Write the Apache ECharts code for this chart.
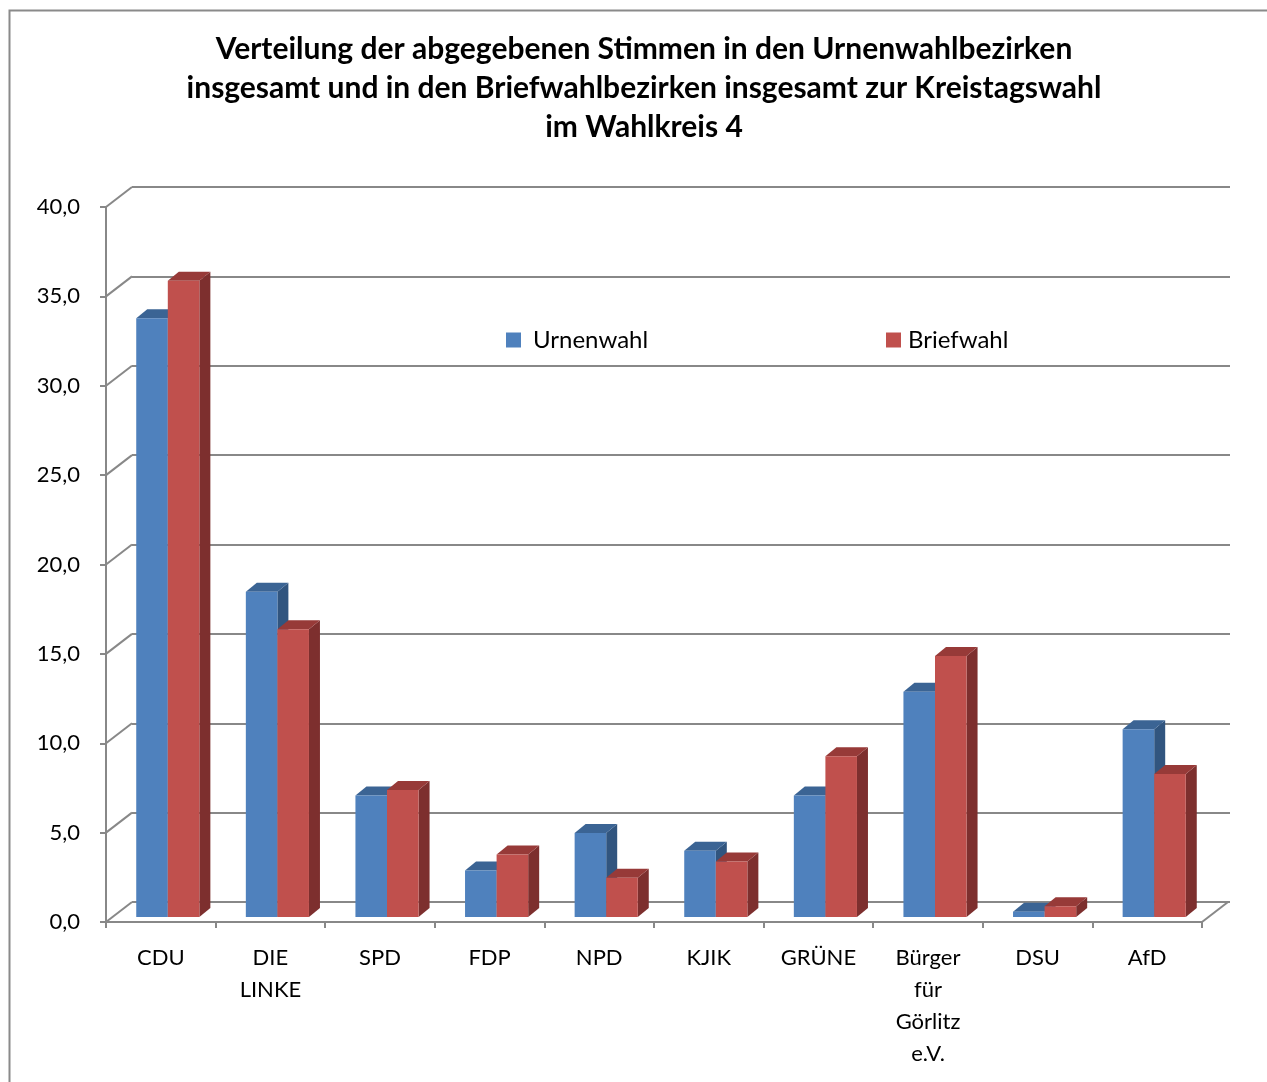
<!DOCTYPE html>
<html>
<head>
<meta charset="utf-8">
<script src="https://cdn.jsdelivr.net/npm/echarts@6/dist/echarts.min.js"></script>
<style>
  html, body { margin: 0; padding: 0; background: #fff; }
  #chart { width: 1267px; height: 1082px; }
</style>
</head>
<body>
<div id="chart"></div>
<script>
// data
var parteien = ['CDU', 'DIE\nLINKE', 'SPD', 'FDP', 'NPD', 'KJIK', 'GRÜNE', 'Bürger\nfür\nGörlitz\ne.V.', 'DSU', 'AfD'];
var urnenwahl = [33.5, 18.2, 6.8, 2.6, 4.7, 3.7, 6.8, 12.6, 0.3, 10.5];
var briefwahl = [35.6, 16.1, 7.1, 3.5, 2.2, 3.1, 9.0, 14.6, 0.6, 8.0];
var yTicks = [0, 5, 10, 15, 20, 25, 30, 35, 40];

var FONT = 'Lato';
var GRID_COLOR = '#888888';

// wall depth offset (back plane)
var WALL_DX = 26, WALL_DY = -20;
// bar placement inside the depth
var BAR_DX = 7, BAR_DY = -5, BAR_DEPTH_X = 11, BAR_DEPTH_Y = -9;

function barRender(idx, front, top, side) {
	return function (params, api) {
		var i = api.value(0);
		var p0 = api.coord([i, 0]);
		var p1 = api.coord([i, api.value(1)]);
		var band = api.size([1, 0])[0];
		var w = band * 0.288;
		var left = p0[0] - w + idx * w + BAR_DX;
		var bottom = p0[1] + BAR_DY;
		var ytop = p1[1] + BAR_DY;
		var dx = BAR_DEPTH_X, dy = BAR_DEPTH_Y;
		return {
			type: 'group',
			children: [{
				type: 'polygon',
				shape: { points: [[left + w, ytop], [left + w + dx, ytop + dy], [left + w + dx, bottom + dy], [left + w, bottom]] },
				style: { fill: side }
			}, {
				type: 'polygon',
				shape: { points: [[left, ytop], [left + w, ytop], [left + w + dx, ytop + dy], [left + dx, ytop + dy]] },
				style: { fill: top }
			}, {
				type: 'rect',
				shape: { x: left, y: ytop, width: w, height: bottom - ytop },
				style: { fill: front }
			}]
		};
	};
}

function wallRender(params, api) {
	var cs = params.coordSys;
	var y = api.coord([0, api.value(1)])[1];
	var children = [{
		type: 'line',
		shape: { x1: cs.x, y1: y, x2: cs.x + WALL_DX, y2: y + WALL_DY },
		style: { stroke: GRID_COLOR, lineWidth: 2 }
	}];
	if (api.value(1) === 0) {
		children.push({
			type: 'line',
			shape: { x1: cs.x + cs.width, y1: y, x2: cs.x + cs.width + WALL_DX, y2: y + WALL_DY },
			style: { stroke: GRID_COLOR, lineWidth: 2 }
		});
	}
	return { type: 'group', children: children };
}

var chart = echarts.init(document.getElementById('chart'));

var option = {
	backgroundColor: '#fff',
	animation: false,
	textStyle: { fontFamily: FONT },
	title: {
		text: 'Verteilung der abgegebenen Stimmen in den Urnenwahlbezirken\ninsgesamt und in den Briefwahlbezirken insgesamt zur Kreistagswahl\nim Wahlkreis 4',
		left: 639,
		textAlign: 'center',
		top: 25,
		textStyle: { fontFamily: FONT, fontSize: 30, fontWeight: 'bold', color: '#000', lineHeight: 39 }
	},
	graphic: [{
		type: 'rect',
		left: 7, top: 8,
		shape: { width: 1300, height: 1100 },
		style: { fill: null, stroke: '#8a8a8a', lineWidth: 2 },
		z: -1
	}],
	legend: [{
		data: ['Urnenwahl'],
		left: 506, top: 328, padding: 0,
		icon: 'rect', itemWidth: 15, itemHeight: 15,
		textStyle: { fontFamily: FONT, fontSize: 24, color: '#000', padding: [0, 0, 0, 7] }
	}, {
		data: ['Briefwahl'],
		left: 886, top: 328, padding: 0,
		icon: 'rect', itemWidth: 15, itemHeight: 15,
		textStyle: { fontFamily: FONT, fontSize: 24, color: '#000', padding: [0, 0, 0, 2] }
	}],
	grid: [
		// front plane
		{ left: 106, top: 207, right: 65, bottom: 160 },
		// back wall
		{ left: 132, top: 187, right: 37, bottom: 180 }
	],
	xAxis: [{
		type: 'category',
		gridIndex: 0,
		data: parteien,
		axisLine: { lineStyle: { color: GRID_COLOR, width: 2 } },
		axisTick: { show: true, interval: 0, length: 6, lineStyle: { color: GRID_COLOR, width: 2 } },
		axisLabel: { interval: 0, margin: 20, color: '#000', fontSize: 22, lineHeight: 32, fontFamily: FONT }
	}, {
		type: 'category',
		gridIndex: 1,
		data: parteien,
		show: false
	}],
	yAxis: [{
		type: 'value',
		gridIndex: 0,
		min: 0, max: 40, interval: 5,
		axisLine: { show: true, lineStyle: { color: GRID_COLOR, width: 2 } },
		axisTick: { show: true, length: 6, lineStyle: { color: GRID_COLOR, width: 2 } },
		splitLine: { show: false },
		axisLabel: {
			margin: 26, color: '#000', fontSize: 22, fontFamily: FONT,
			formatter: function (v) { return v.toFixed(1).replace('.', ','); }
		}
	}, {
		type: 'value',
		gridIndex: 1,
		min: 0, max: 40, interval: 5,
		axisLine: { show: false },
		axisTick: { show: false },
		axisLabel: { show: false },
		splitLine: { show: true, lineStyle: { color: GRID_COLOR, width: 2 } }
	}],
	series: [{
		name: 'wall',
		type: 'custom',
		xAxisIndex: 0, yAxisIndex: 0,
		renderItem: wallRender,
		data: yTicks.map(function (v) { return [0, v]; }),
		silent: true,
		z: 1
	}, {
		name: 'Urnenwahl',
		type: 'custom',
		xAxisIndex: 0, yAxisIndex: 0,
		itemStyle: { color: '#4F81BD' },
		renderItem: barRender(0, '#4F81BD', '#3B6494', '#31557F'),
		data: urnenwahl.map(function (v, i) { return [i, v]; }),
		encode: { x: 0, y: 1 },
		z: 3
	}, {
		name: 'Briefwahl',
		type: 'custom',
		xAxisIndex: 0, yAxisIndex: 0,
		itemStyle: { color: '#C0504D' },
		renderItem: barRender(1, '#C0504D', '#973A38', '#7D2F2E'),
		data: briefwahl.map(function (v, i) { return [i, v]; }),
		encode: { x: 0, y: 1 },
		z: 4
	}]
};

chart.setOption(option);
</script>
</body>
</html>
